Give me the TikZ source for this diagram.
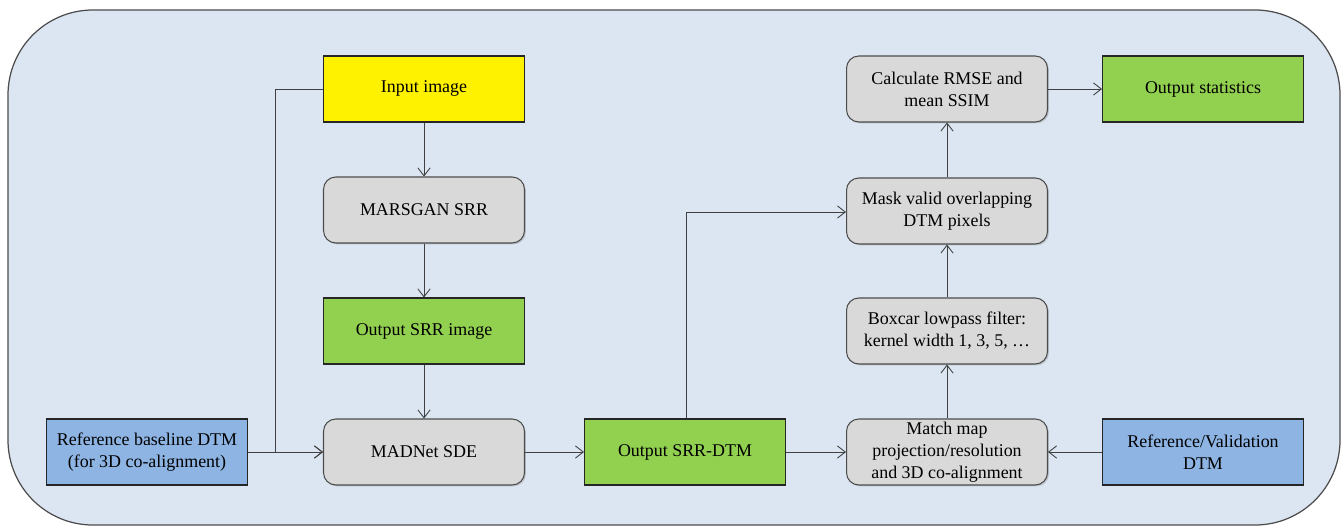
\documentclass[tikz,border=0pt]{standalone}
\usepackage{fontspec}
\setmainfont{Liberation Serif}
\usetikzlibrary{arrows.meta,shadows}
\definecolor{bgblue}{HTML}{DCE6F2}
\definecolor{boxgray}{HTML}{D9D9D9}
\definecolor{ygreen}{HTML}{92D050}
\definecolor{lblue}{HTML}{8EB4E3}
\definecolor{linegray}{HTML}{404040}
\tikzset{
  base/.style={minimum width=4.02cm, minimum height=1.32cm, align=center,
    font=\fontsize{10.2}{12.5}\selectfont, inner sep=1pt, draw=black!85, line width=0.6pt},
  inbox/.style={base, fill=yellow},
  outbox/.style={base, fill=ygreen},
  refbox/.style={base, fill=lblue},
  procbox/.style={base, fill=boxgray, rounded corners=7pt, draw=black!70,
    drop shadow={opacity=0.35, shadow xshift=0.8pt, shadow yshift=-0.8pt}},
  conn/.style={draw=linegray, line width=0.5pt, -{Straight Barb[length=4.5pt,width=7pt]}}
}
\begin{document}
\begin{tikzpicture}[x=0.02cm,y=-0.02cm]
\useasboundingbox (0,0) rectangle (1344,527);
\draw[fill=bgblue, draw=black!70, line width=0.7pt, rounded corners=1.7cm] (8,10) rectangle (1340,525);
\node[inbox] (inp) at (424,89) {Input image};
\node[procbox] (mars) at (424,210) {MARSGAN SRR};
\node[outbox] (osrr) at (424,331) {Output SRR image};
\node[procbox] (mad) at (424,452) {MADNet SDE};
\node[refbox] (rbase) at (147,452) {Reference baseline DTM\\(for 3D co-alignment)};
\node[outbox] (odtm) at (685,452) {Output SRR-DTM};
\node[procbox] (match) at (947,452) {Match map\\projection/resolution\\and 3D co-alignment};
\node[refbox] (rval) at (1203,452) {Reference/Validation\\DTM};
\node[procbox] (box) at (947,331) {Boxcar lowpass filter:\\kernel width 1, 3, 5, \dots};
\node[procbox] (mask) at (947,211) {Mask valid overlapping\\DTM pixels};
\node[procbox] (rmse) at (947,89) {Calculate RMSE and\\mean SSIM};
\node[outbox] (ostat) at (1203,89) {Output statistics};
\coordinate (c1) at (275,89);
\coordinate (c2) at (275,452);
\coordinate (c3) at (686,212);
\draw[conn] (inp) -- (mars);
\draw[conn] (mars) -- (osrr);
\draw[conn] (osrr) -- (mad);
\draw[conn] (inp.west) -- (c1) -- (c2) -- (mad.west);
\draw[conn] (rbase) -- (mad);
\draw[conn] (mad) -- (odtm);
\draw[conn] (odtm) -- (match);
\draw[conn] (rval) -- (match);
\draw[conn] (odtm.north -| c3) -- (c3) -- (mask.west |- c3);
\draw[conn] (match) -- (box);
\draw[conn] (box) -- (mask);
\draw[conn] (mask) -- (rmse);
\draw[conn] (rmse) -- (ostat);
\end{tikzpicture}
\end{document}
